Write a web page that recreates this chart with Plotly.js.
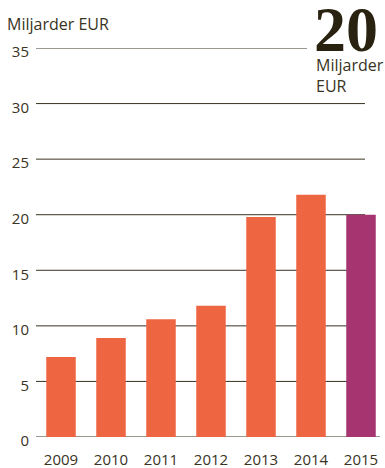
<!DOCTYPE html>
<html>
<head>
<meta charset="utf-8">
<script src="https://cdn.plot.ly/plotly-3.0.1.min.js"></script>
<style>html,body{margin:0;padding:0;background:#fff;}#chart{width:385px;height:468px;}</style>
</head>
<body>
<div id="chart"></div>
<script>
const years = ["2009", "2010", "2011", "2012", "2013", "2014", "2015"];
const values = [7.2, 8.9, 10.6, 11.8, 19.8, 21.8, 20.0];
const barColors = ["#EE6541", "#EE6541", "#EE6541", "#EE6541", "#EE6541", "#EE6541", "#A53471"];
const yTicks = [0, 5, 10, 15, 20, 25, 30, 35];
const unitLabel = "Miljarder EUR";
const highlightValue = "20";
const highlightUnit = "Miljarder<br>EUR";

const textColor = "#3a3322";
const lineColor = "#3a3322";

const shapes = yTicks.map(function (t) {
  let x1 = 0.9536;
  if (t === 0) x1 = 0.997;
  if (t === 35) x1 = 0.7855;
  return {
    type: "line", xref: "paper", yref: "y", x0: 0, x1: x1, y0: t, y1: t,
    line: { color: lineColor, width: 1 }, layer: "below"
  };
});

const trace = {
  type: "bar",
  x: years,
  y: values,
  marker: { color: barColors },
  hoverinfo: "skip"
};

const layout = {
  width: 385, height: 468,
  margin: { l: 36, r: 4, t: 48, b: 31 },
  paper_bgcolor: "#ffffff", plot_bgcolor: "#ffffff",
  bargap: 0.41,
  showlegend: false,
  font: { family: "Open Sans, sans-serif", size: 15, color: textColor },
  xaxis: {
    type: "category", range: [-0.5, 6.4],
    showgrid: false, zeroline: false, showline: false, ticks: "",
    tickfont: { size: 15, color: textColor }, ticklabelstandoff: 12, fixedrange: true
  },
  yaxis: {
    range: [0, 35], tickvals: yTicks, ticktext: yTicks.map(String),
    showgrid: false, zeroline: false, showline: false, ticks: "",
    tickfont: { size: 15, color: textColor }, ticklabelstandoff: 6, ticklabelshift: 4,
    fixedrange: true
  },
  shapes: shapes,
  annotations: [
    { xref: "paper", yref: "paper", x: -0.09, y: 1.062, xanchor: "left", yanchor: "middle",
      text: unitLabel, showarrow: false, font: { size: 16, color: textColor } },
    { xref: "paper", yref: "paper", x: 0.997, y: 1.143, xanchor: "right", yanchor: "top",
      text: "<b>" + highlightValue + "</b>", showarrow: false,
      font: { family: "Liberation Serif, serif", size: 64, color: "#2a2210" } },
    { xref: "paper", yref: "paper", x: 0.806, y: 0.93, xanchor: "left", yanchor: "middle", align: "left",
      text: highlightUnit, showarrow: false, font: { size: 16, color: textColor } }
  ]
};

Plotly.newPlot("chart", [trace], layout, { displayModeBar: false, staticPlot: true });
</script>
</body>
</html>
